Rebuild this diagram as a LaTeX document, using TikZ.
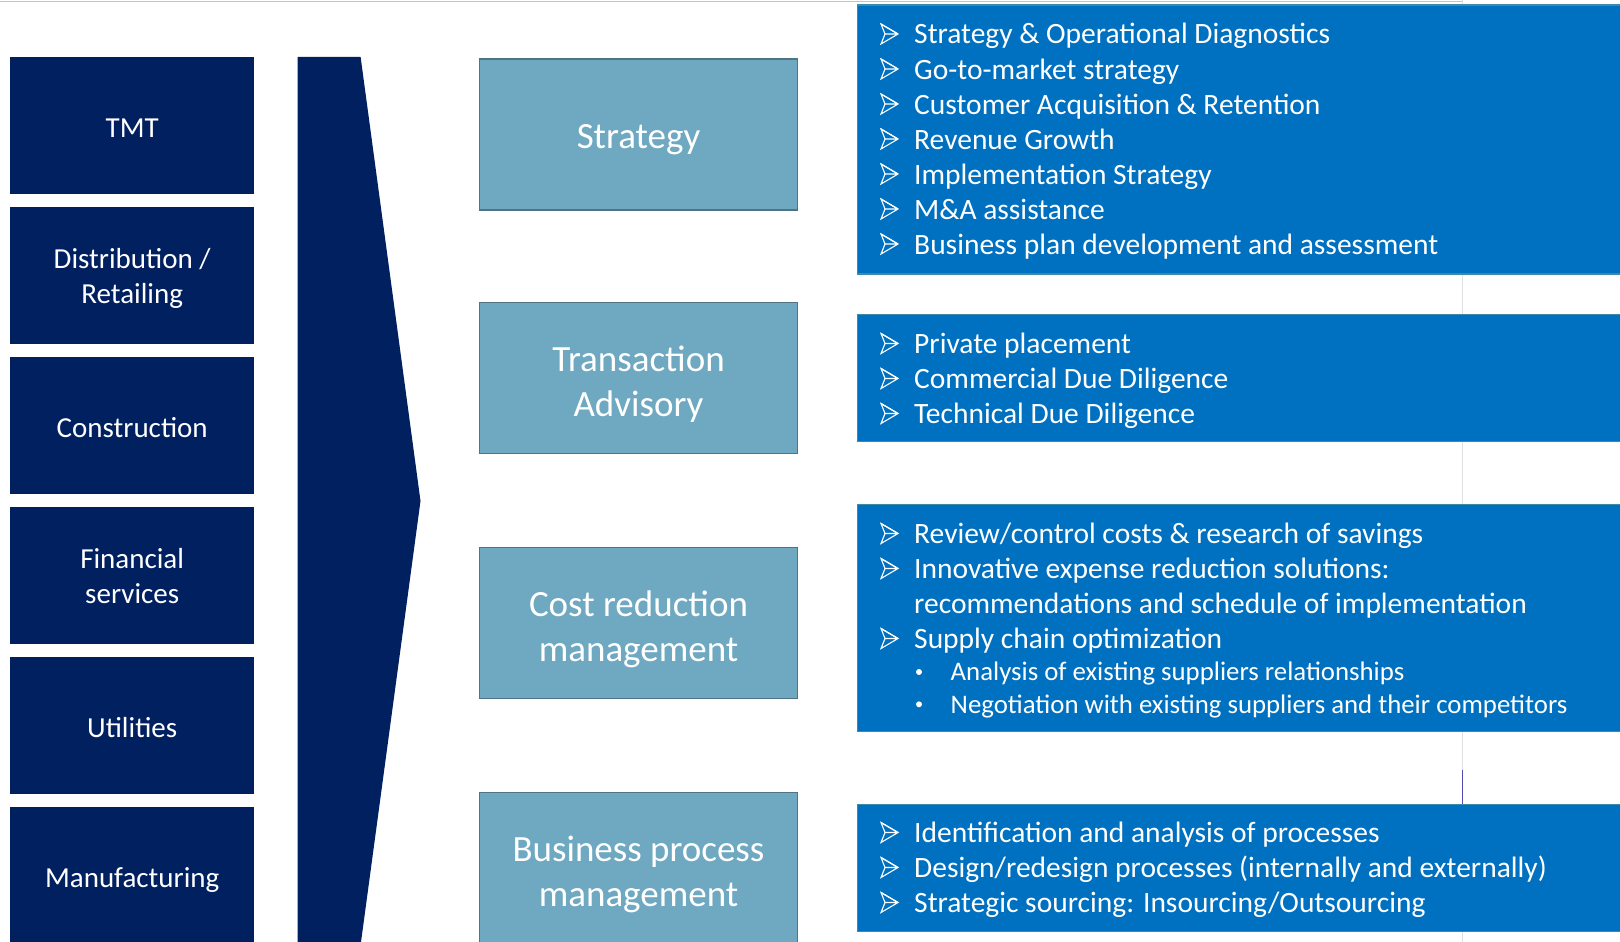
\documentclass[tikz,border=0pt]{standalone}
\usepackage{fontspec}
\setmainfont{Carlito}
\definecolor{navy}{RGB}{0,32,96}
\definecolor{steel}{RGB}{111,168,193}
\definecolor{steelline}{RGB}{80,116,132}
\definecolor{office}{RGB}{0,112,192}
\definecolor{officeline}{RGB}{60,138,170}
\begin{document}
\begin{tikzpicture}[x=1pt,y=-1pt,
  sector/.style={fill=navy,text=white,minimum width=244pt,minimum height=137.5pt,
    inner sep=0pt,align=center,font=\fontsize{29}{35}\selectfont},
  oneline/.style={text height=23pt,text depth=0pt},
  twoline/.style={text depth=0pt},
  service/.style={fill=steel,draw=steelline,line width=1.5pt,
    minimum width=318pt,minimum height=151pt,inner sep=0pt},
  svctext/.style={text=white,inner sep=0pt,align=center,font=\fontsize{37}{45}\selectfont},
  offer/.style={fill=office,draw=officeline,line width=1.5pt},
  item/.style={anchor=base west,inner sep=0pt,text=white,font=\fontsize{29.5}{35}\selectfont},
  subitem/.style={anchor=base west,inner sep=0pt,text=white,font=\fontsize{26.8}{32}\selectfont},
  darr/.pic={\draw[white,line width=1.1pt,line join=miter] (0,0) -- (17,-10) -- (0,-20) -- (4,-10) -- cycle (4,-10) -- (17,-10);
    \draw[white,line width=1.2pt] (0,-20) -- (17,-10);}]
\useasboundingbox (0,0) rectangle (1620,942);
%\draw [help lines,step=100] (0,0) grid (1620,942);
\draw [line width=1pt,black!30!blue!25] (0,2) -- (1462,2);
\draw [line width=0.8pt,black!12] (1462,0) -- (1462,942);
\draw [line width=1pt,blue!40!gray] (1462,770) -- (1462,805);
% sectors
\foreach \lbl/\sty [count=\i] in {TMT/oneline,{Distribution /\\Retailing}/twoline,Construction/oneline,{Financial\\services}/twoline,Utilities/oneline,Manufacturing/oneline}
  \node[sector,\sty] (sec\i) at (132.2,{125.5+150*(\i-1)}) {\lbl};
% big arrow
\fill [navy] (297.6,56.8) -- (360.6,56.8) -- (420.5,501) -- (360.6,945) -- (297.6,945) -- cycle;
% services
\node[service] (strat) at (638.5,134.3) {};
\node[service] (trans) at (638.5,378.2) {};
\node[service] (cost) at (638.5,623) {};
\node[service] (bpm) at (638.5,868) {};
\node[svctext] (strat-t) at ([yshift=-5pt]strat.center) {Strategy};
\node[svctext] (trans-t) at ([yshift=-6pt]trans.center) {Transaction\\Advisory};
\node[svctext] (cost-t) at ([yshift=-6pt]cost.center) {Cost reduction\\management};
\node[svctext] (bpm-t) at ([yshift=-6pt]bpm.center) {Business process\\management};
% offers
\draw [offer] (857.6,5.2) rectangle (1630,273.8);
\draw [offer] (857.6,314.5) rectangle (1630,441.5);
\draw [offer] (857.6,504.5) rectangle (1630,731.5);
\draw [offer] (857.6,804.5) rectangle (1630,931.5);
\foreach \txt [count=\i] in {{Strategy \& Operational Diagnostics},{Go-to-market strategy},{Customer Acquisition \& Retention},{Revenue Growth},{Implementation Strategy},{M\&A assistance},{Business plan development and assessment}}{
  \pic at (881,{44+35*(\i-1)}) {darr};
  \node[item] (a\i) at (914,{44+35*(\i-1)}) {\txt};
}
\foreach \txt [count=\i] in {{Private placement},{Commercial Due Diligence},{Technical Due Diligence}}{
  \pic at (881,{353.5+35*(\i-1)}) {darr};
  \node[item] (b\i) at (914,{353.5+35*(\i-1)}) {\txt};
}
\pic at (881,543.5) {darr};
\node[item] (c1) at (914,543.5) {Review/control costs \& research of savings};
\pic at (881,578.5) {darr};
\node[item] (c2) at (914,578.5) {Innovative expense reduction solutions:};
\node[item] (c3) at (914,613.5) {recommendations and schedule of implementation};
\pic at (881,648.5) {darr};
\node[item] (c4) at (914,648.5) {Supply chain optimization};
\fill [white] (919,672) circle (3);
\node[subitem] (c5) at (950.5,680.8) {Analysis of existing suppliers relationships};
\fill [white] (919,704.3) circle (3);
\node[subitem] (c6) at (950.5,713) {Negotiation with existing suppliers and their competitors};
\foreach \txt [count=\i] in {{Identification and analysis of processes},{Design/redesign processes (internally and externally)},{Strategic sourcing: Insourcing/Outsourcing}}{
  \pic at (881,{842.5+35*(\i-1)}) {darr};
  \node[item] (d\i) at (914,{842.5+35*(\i-1)}) {\txt};
}
\end{tikzpicture}
\end{document}
